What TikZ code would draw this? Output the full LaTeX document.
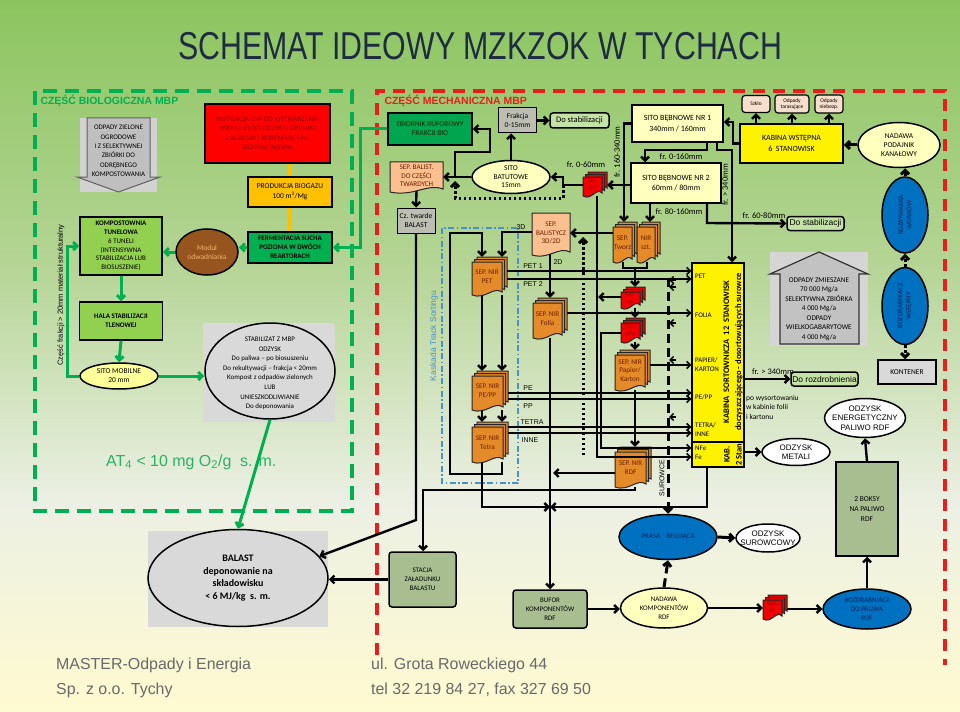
\documentclass[tikz,border=0pt]{standalone}
\usepackage{fontspec}
\setmainfont{Carlito}
\newfontfamily\arialfont{Liberation Sans}
\usepackage{graphicx}
\usetikzlibrary{arrows.meta,shapes.geometric}

\definecolor{bgTop}{RGB}{140,197,95}
\definecolor{bgMid}{RGB}{180,212,148}
\definecolor{bgLow}{RGB}{236,240,228}
\definecolor{bgBot}{RGB}{255,250,208}
\definecolor{titleBlue}{RGB}{30,44,66}
\definecolor{bioGreen}{RGB}{0,176,80}
\definecolor{atGreen}{RGB}{40,180,100}
\definecolor{mechRed}{RGB}{232,30,30}
\definecolor{lightGreen}{RGB}{146,208,80}
\definecolor{darkGreen}{RGB}{0,165,80}
\definecolor{chpRed}{RGB}{255,0,0}
\definecolor{chpText}{RGB}{150,0,0}
\definecolor{gold}{RGB}{255,192,0}
\definecolor{brownMod}{RGB}{150,85,30}
\definecolor{brownText}{RGB}{240,180,110}
\definecolor{paleYellow}{RGB}{255,255,153}
\definecolor{creamYellow}{RGB}{255,255,190}
\definecolor{boxGray}{RGB}{217,217,217}
\definecolor{midGray}{RGB}{188,190,178}
\definecolor{peach}{RGB}{250,192,144}
\definecolor{peachLight}{RGB}{248,222,205}
\definecolor{nirOrange}{RGB}{228,138,40}
\definecolor{nirText}{RGB}{110,30,0}
\definecolor{sepRed}{RGB}{240,0,0}
\definecolor{sepText}{RGB}{160,0,0}
\definecolor{sageGreen}{RGB}{168,190,145}
\definecolor{blueEll}{RGB}{0,112,192}
\definecolor{blueText}{RGB}{0,35,90}
\definecolor{kaskBlue}{RGB}{75,145,200}
\definecolor{stabFill}{RGB}{196,226,166}
\definecolor{footGray}{RGB}{105,105,105}

\tikzset{
  box/.style={draw=black,line width=1.5bp,align=center,inner sep=0pt,font=\fontsize{7.5}{9}\selectfont},
  rbox/.style={box,rounded corners=3bp},
  ell/.style={draw=black,ellipse,line width=1.5bp,inner sep=0pt},
  txt/.style={align=center,inner sep=0pt,font=\fontsize{7.5}{9}\selectfont},
  atxt/.style={align=center,inner sep=0pt,font=\arialfont\fontsize{8}{9.5}\selectfont},
  docline/.style={draw=black!85,line width=1bp},
  doctext/.style={align=center,inner sep=0pt,text=nirText,font=\fontsize{7.2}{8.6}\selectfont},
  redtext/.style={align=center,inner sep=0pt,text=sepText,font=\fontsize{6}{7}\selectfont},
  conn/.style={draw=black,line width=2.4bp},
  flow/.style={conn,->},
  slimflow/.style={draw=black,line width=1.5bp,-{Straight Barb[length=3.5bp,width=7bp]}},
  gflow/.style={draw=bioGreen,line width=3bp,->},
  dotline/.style={line width=3bp,dash pattern=on 2.5bp off 2.5bp},
  dashline/.style={line width=3bp,dash pattern=on 9bp off 5bp},
  lbl/.style={inner sep=0pt,font=\fontsize{8.5}{10}\selectfont},
  tag/.style={inner sep=0pt,font=\arialfont\fontsize{7}{8}\selectfont},
}

% one sheet with a wavy bottom: x0,y0,x1,y1,fill
\newcommand{\docsheet}[5]{%
  \filldraw[docline,fill=#5] ({#1},{#2}) -- ({#3},{#2}) -- ({#3},{(#4)-3})
    .. controls ({(#3)-0.3*((#3)-(#1))},{(#4)-9}) and ({(#1)+0.45*((#3)-(#1))},{(#4)+5}) .. ({#1},{#4}) -- cycle;}
% stack of three sheets: name,x0,y0,x1,y1,fill,text style,text
\newcommand{\docstack}[8]{%
  \docsheet{(#2)+5}{#3}{#4}{(#5)-5}{#6}%
  \docsheet{(#2)+2.5}{(#3)+2.5}{(#4)-2.5}{(#5)-2.5}{#6}%
  \docsheet{#2}{(#3)+5}{(#4)-5}{#5}{#6}%
  \node[inner sep=0pt,minimum width={((#4)-(#2))*1bp},minimum height={((#5)-(#3))*1bp}] (#1) at ({((#2)+(#4))/2},{((#3)+(#5))/2}) {};%
  \node[#7] (#1-txt) at ({((#2)+(#4)-5)/2},{((#3)+(#5)+5)/2-2}) {#8};}
% single sheet: name,x0,y0,x1,y1,fill,text
\newcommand{\docsingle}[7]{%
  \docsheet{#2}{#3}{#4}{#5}{#6}%
  \node[doctext,minimum width={((#4)-(#2))*1bp},minimum height={((#5)-(#3))*1bp}] (#1) at ({((#2)+(#4))/2},{((#3)+(#5))/2-1}) {#7};}

\begin{document}
\begin{tikzpicture}[x=1bp,y=-1bp,>={Straight Barb[length=4bp,width=8bp]}]
\useasboundingbox (0,0) rectangle (960,712);
\shade[top color=bgTop,bottom color=bgMid] (0,0) rectangle (960,262);
\shade[top color=bgMid,bottom color=bgLow] (0,261) rectangle (960,502);
\shade[top color=bgLow,bottom color=bgBot] (0,501) rectangle (960,712);

\node[font=\arialfont\fontsize{39}{40}\selectfont,text=titleBlue] (title) at (480,46) {\scalebox{0.78}[1]{SCHEMAT IDEOWY MZKZOK W TYCHACH}};

% frames
\draw[bioGreen,line width=4bp,dash pattern=on 14bp off 8bp] (35,91) rectangle (352,511);
\draw[mechRed,line width=3.5bp,dash pattern=on 12bp off 8bp] (377,655) -- (377,91) -- (945,91) -- (945,665);
\node[anchor=west,font=\arialfont\bfseries\fontsize{10.5}{12}\selectfont,text=bioGreen] (bioTitle) at (37,101) {CZĘŚĆ BIOLOGICZNA MBP};
\node[anchor=west,font=\arialfont\bfseries\fontsize{10.5}{12}\selectfont,text=mechRed] (mechTitle) at (381,101) {CZĘŚĆ MECHANICZNA MBP};

% biological part
\fill[gray!35] (80,118) rectangle (157,192);
\filldraw[fill=gray!50,draw=gray!75!black,line width=1bp] (87,118) -- (150,118) -- (150,177) -- (160,177) -- (118.5,192) -- (77,177) -- (87,177) -- cycle;
\node[txt,font=\fontsize{7}{9.5}\selectfont] (zielone) at (118.5,151) {ODPADY ZIELONE\\OGRODOWE\\I Z SELEKTYWNEJ\\ZBIÓRKI DO\\ODRĘBNEGO\\KOMPOSTOWANIA};
\node[box,fill=chpRed,text=chpText,minimum width=125bp,minimum height=59bp,font=\fontsize{7}{9.3}\selectfont] (chp) at (267.5,133.5) {INSTALACJA CHP DO WYTWARZANIA\\ENERGII ELEKTRYCZNEJ I CIEPLNEJ\\2 AGREGATY KOGENERACYJNE\\332kWe/ 365kWc};
\node[box,fill=gold,minimum width=84bp,minimum height=30bp,font=\fontsize{7.5}{10}\selectfont] (biogaz) at (290,192) {PRODUKCJA BIOGAZU\\100 m\textsuperscript{3}/Mg};
\node[box,fill=bioGreen,minimum width=84bp,minimum height=31bp,font=\bfseries\fontsize{7}{9}\selectfont] (ferm) at (290,247.5) {FERMENTACJA SUCHA\\POZIOMA W DWÓCH\\REAKTORACH};
\node[ell,fill=brownMod,minimum width=62bp,minimum height=46bp] (modul) at (207,252) {};
\node[txt,text=brownText] (modulTxt) at (modul) {Modul\\odwadniania};
\node[box,fill=lightGreen,minimum width=82bp,minimum height=58bp,font=\fontsize{7}{8.8}\selectfont] (komp) at (121,246) {\textbf{KOMPOSTOWNIA}\\\textbf{TUNELOWA}\\6 TUNELI\\(INTENSYWNA\\STABILIZACJA LUB\\BIOSUSZENIE)};
\node[box,fill=lightGreen,minimum width=83bp,minimum height=38bp,font=\bfseries\fontsize{7}{9}\selectfont] (hala) at (121,321) {HALA STABILIZACJI\\TLENOWEJ};
\node[ell,fill=paleYellow,minimum width=78bp,minimum height=26bp] (sitoMob) at (119,376) {};
\node[txt] (sitoMobTxt) at (sitoMob) {SITO MOBILNE\\20 mm};
\fill[boxGray] (203,323) rectangle (335,422);
\node[ell,fill=boxGray,minimum width=130bp,minimum height=96bp] (stab) at (270,371) {};
\node[txt,font=\fontsize{7}{9.6}\selectfont] (stabTxt) at (270,373.5) {STABILIZAT Z MBP\\ODZYSK\\Do paliwa -- po biosuszeniu\\Do rekultywacji -- frakcja < 20mm\\Kompost z odpadów zielonych\\LUB\\UNIESZKODLIWIANIE\\Do deponowania};
\node[rotate=90,inner sep=0pt,font=\arialfont\fontsize{7.5}{9}\selectfont] (czescTxt) at (61,295) {Część frakcji > 20mm materiał strukturalny};
\node[anchor=west,inner sep=0pt,font=\arialfont\fontsize{16}{18}\selectfont,text=atGreen] (at4) at (106,462) {AT\textsubscript{4} < 10 mg O\textsubscript{2}/g\ \ s. m.};

% mechanical part
\node[box,fill=darkGreen,minimum width=84bp,minimum height=32bp,text=black!85!green] (zbiornik) at (430,129) {ZBIORNIK BUFOROWY\\FRAKCJI BIO};
\docsingle{sepBalist}{390}{162}{443}{192}{peach}{SEP. BALIST.\\DO CZĘŚCI\\TWARDYCH}
\node[box,fill=midGray,line width=1bp,minimum width=38bp,minimum height=25bp] (czTwarde) at (416,220.5) {Cz. twarde\\BALAST};
\node[box,fill=midGray,line width=1bp,minimum width=38bp,minimum height=25bp] (frakcja) at (517.5,120.5) {Frakcja\\0-15mm};
\node[rbox,fill=stabFill,minimum width=59bp,minimum height=15bp,font=\fontsize{8.5}{10}\selectfont] (doStab1) at (579.5,120.5) {Do stabilizacji};
\node[ell,fill=creamYellow,minimum width=78bp,minimum height=33bp] (sitoBat) at (511,177) {};
\node[txt,font=\fontsize{7.5}{8.6}\selectfont] (sitoBatTxt) at (sitoBat) {SITO\\BATUTOWE\\15mm};
\docstack{sepFe1}{583}{172}{607}{196}{sepRed}{redtext}{Sep.\\Fe}
\node[box,fill=creamYellow,minimum width=91bp,minimum height=37bp,font=\fontsize{8}{10.5}\selectfont] (sito1) at (677.5,123.5) {SITO BĘBNOWE NR 1\\340mm / 160mm};
\node[box,fill=creamYellow,minimum width=90bp,minimum height=40bp,font=\fontsize{8}{10.5}\selectfont] (sito2) at (676,183) {SITO BĘBNOWE NR 2\\60mm / 80mm};
\node[box,fill=yellow,minimum width=103bp,minimum height=39bp,font=\fontsize{8}{10.5}\selectfont] (kabWst) at (791.5,143.5) {KABINA WSTĘPNA\\6\ \ STANOWISK};
\node[rbox,fill=peachLight,line width=1.2bp,minimum width=28bp,minimum height=17bp,font=\fontsize{5.5}{6.5}\selectfont] (szklo) at (756,104) {Szkło};
\node[rbox,fill=peachLight,line width=1.2bp,minimum width=34bp,minimum height=18bp,font=\fontsize{5.5}{6.5}\selectfont] (odpTar) at (792,104) {Odpady\\tarasujące};
\node[rbox,fill=peachLight,line width=1.2bp,minimum width=28bp,minimum height=18bp,font=\fontsize{5.5}{6.5}\selectfont] (odpNieb) at (829,104) {Odpady\\niebezp.};
\node[ell,fill=creamYellow,minimum width=82bp,minimum height=45bp] (nadawa) at (899,145) {};
\node[txt] (nadawaTxt) at (nadawa) {NADAWA\\PODAJNIK\\KANAŁOWY};
\node[ell,fill=blueEll,minimum width=46bp,minimum height=76bp] (rozryw) at (905,215) {};
\node[txt,rotate=90,text=blueText,font=\fontsize{7}{8.5}\selectfont] (rozrywTxt) at (rozryw) {ROZRYWARKA\\WORKÓW};
\node[ell,fill=blueEll,minimum width=46bp,minimum height=77bp] (rozdrab) at (905,306) {};
\node[txt,rotate=90,text=blueText,font=\fontsize{7}{8.5}\selectfont] (rozdrabTxt) at (rozdrab) {ROZDRABNIACZ\\WSTĘPNY};
\node[box,fill=boxGray,minimum width=58bp,minimum height=24bp] (kontener) at (907,372) {KONTENER};
\fill[gray!33] (770,252) rectangle (868,346);
\filldraw[fill=gray!48,draw=black!80,line width=1.2bp] (819,252) -- (868,274) -- (859,274) -- (859,344) -- (780,344) -- (780,274) -- (770,274) -- cycle;
\node[txt,font=\fontsize{7.3}{9.5}\selectfont] (odpMiesz) at (819,309) {ODPADY ZMIESZANE\\70 000 Mg/a\\SELEKTYWNA ZBIÓRKA\\4 000 Mg/a\\ODPADY\\WIELKOGABARYTOWE\\4 000 Mg/a};
\node[rbox,fill=stabFill,minimum width=57bp,minimum height=14bp,font=\arialfont\fontsize{8.5}{10}\selectfont] (doStab2) at (815.5,223.5) {Do stabilizacji};
\node[rbox,fill=stabFill,minimum width=67bp,minimum height=14bp,font=\arialfont\fontsize{8.5}{10}\selectfont] (doRozdr) at (824.5,379) {Do rozdrobnienia};

% sorting cabin
\node[draw=black,fill=yellow,line width=1.5bp,minimum width=52bp,minimum height=204bp] (cabin) at (718,365) {};
\draw[line width=1.2bp] (cabin.west |- 0,442) -- (cabin.east |- 0,442);
\node[rotate=90,align=center,inner sep=0pt,font=\bfseries\fontsize{8.5}{12}\selectfont] (cabTxt) at (733,352) {KABINA\ \ SORTOWNICZA\ \ 12\ \ STANOWISK\\doczyszczającego - dosortowujących surowce};
\node[rotate=90,align=center,inner sep=0pt,font=\bfseries\fontsize{8.5}{12}\selectfont] (cab2Txt) at (733,454.5) {KAB.\\2 Stan};
\node[anchor=west,inner sep=0pt,font=\fontsize{7}{9}\selectfont] (cPet) at (695,276) {PET};
\node[anchor=west,inner sep=0pt,font=\fontsize{7}{9}\selectfont] (cFolia) at (695,315) {FOLIA};
\node[anchor=west,align=left,inner sep=0pt,font=\fontsize{7}{9}\selectfont] (cPapier) at (695,365) {PAPIER/\\KARTON};
\node[anchor=west,inner sep=0pt,font=\fontsize{7}{9}\selectfont] (cPePp) at (695,397) {PE/PP};
\node[anchor=west,align=left,inner sep=0pt,font=\fontsize{7}{9}\selectfont] (cTetra) at (695,430) {TETRA/\\INNE};
\node[anchor=west,align=left,inner sep=0pt,font=\fontsize{7}{9}\selectfont] (cFe) at (695,453) {NFe\\Fe};

% separators
\docsingle{sepBalistycz}{532}{213}{570}{255}{peach}{SEP.\\BALISTYCZ\\3D/2D}
\docstack{sepTworz}{613}{222}{637}{262}{nirOrange}{doctext}{SEP.\\Tworz}
\docstack{nirSzt}{637}{222}{660}{262}{nirOrange}{doctext}{NIR\\szt.}
\docstack{sepFe2}{621}{287}{645}{308}{sepRed}{redtext}{Sep.\\Fe}
\docstack{sepNFe}{621}{318}{645}{342}{sepRed}{redtext}{Sep.\\NFe}
\docstack{nirPapier}{615}{350}{650}{390}{nirOrange}{doctext}{SEP. NIR\\Papier/\\Karton}
\docstack{nirRdf}{615}{447}{651}{487}{nirOrange}{doctext}{SEP. NIR\\RDF}
\docstack{nirPet}{472}{257}{507}{295}{nirOrange}{doctext}{SEP. NIR\\PET}
\docstack{nirFolia}{533}{298}{567}{338}{nirOrange}{doctext}{SEP. NIR\\Folia}
\docstack{nirPePp}{472}{371}{508}{410}{nirOrange}{doctext}{SEP. NIR\\PE/PP}
\docstack{nirTetra}{472}{422}{508}{462}{nirOrange}{doctext}{SEP. NIR\\Tetra}
\draw[kaskBlue,line width=1.5bp,dash pattern=on 6bp off 2.5bp on 1.5bp off 2.5bp] (442,228) rectangle (518,483);
\node[rotate=90,inner sep=0pt,font=\arialfont\fontsize{8.5}{10}\selectfont,text=kaskBlue] (kaskTxt) at (434,336) {Kaskada Track Sortingu};

% lower part
\node[rbox,fill=sageGreen,minimum width=67bp,minimum height=55bp,font=\fontsize{7}{9}\selectfont] (stacja) at (422.5,579.5) {STACJA\\ZAŁADUNKU\\BALASTU};
\fill[boxGray] (148,531) rectangle (328,627);
\node[ell,fill=boxGray,minimum width=180bp,minimum height=97bp] (balast) at (238,578) {};
\node[txt,font=\bfseries\fontsize{10}{12.5}\selectfont] (balastTxt) at (balast) {BALAST\\deponowanie na\\składowisku\\< 6 MJ/kg\ \ s. m.};
\node[rbox,fill=sageGreen,minimum width=74bp,minimum height=38bp,font=\fontsize{7}{9}\selectfont] (bufor) at (550,609) {BUFOR\\KOMPONENTÓW\\RDF};
\node[ell,fill=creamYellow,minimum width=87bp,minimum height=40bp] (nadKomp) at (664,608) {};
\node[txt,font=\fontsize{7}{9}\selectfont] (nadKompTxt) at (nadKomp) {NADAWA\\KOMPONENTÓW\\RDF};
\docstack{sepFe3}{763}{595}{787}{619}{sepRed}{redtext}{Sep.\\Fe}
\node[ell,fill=blueEll,minimum width=88bp,minimum height=40bp] (rozdrRdf) at (867,609) {};
\node[txt,text=blueText,font=\fontsize{7}{9}\selectfont] (rozdrRdfTxt) at (rozdrRdf) {ROZDRABNIACZ\\DO PALIWA\\RDF};
\node[box,fill=sageGreen,minimum width=62bp,minimum height=94bp,font=\fontsize{7.5}{10}\selectfont] (boksy) at (867,509) {2 BOKSY\\NA PALIWO\\RDF};
\node[ell,fill=white,minimum width=81bp,minimum height=39bp] (odzEn) at (865,418) {};
\node[atxt] (odzEnTxt) at (odzEn) {ODZYSK\\ENERGETYCZNY\\PALIWO RDF};
\node[ell,fill=white,minimum width=68bp,minimum height=27bp] (odzMet) at (796,452) {};
\node[atxt] (odzMetTxt) at (odzMet) {ODZYSK\\METALI};
\node[ell,fill=blueEll,minimum width=98bp,minimum height=45bp] (prasa) at (668,537) {};
\node[txt,text=blueText,font=\fontsize{7}{9}\selectfont] (prasaTxt) at (prasa) {PRASA\ \ \ \ BELUJĄCA};
\node[ell,fill=white,minimum width=64bp,minimum height=28bp] (odzSur) at (768,538) {};
\node[atxt] (odzSurTxt) at (odzSur) {ODZYSK\\SUROWCOWY};

% labels
\node[lbl] (fr060) at (586,165) {fr. 0-60mm};
\node[lbl,rotate=90] (fr160) at (617,152) {fr. 160-340mm};
\node[lbl] (fr0160) at (681,157) {fr. 0-160mm};
\node[lbl,rotate=90] (fr340a) at (725,185) {fr. > 340mm};
\node[lbl] (fr80) at (679,212) {fr. 80-160mm};
\node[lbl] (fr6080) at (764,216) {fr. 60-80mm};
\node[lbl] (fr340b) at (773,372) {fr. > 340mm};
\node[anchor=west,align=left,inner sep=0pt,font=\fontsize{7.5}{9.5}\selectfont] (poWys) at (746,407) {po wysortowaniu\\w kabinie folii\\i kartonu};
\node[tag] (t3d) at (521,227) {3D};
\node[tag] (t2d) at (558,262) {2D};
\node[tag] (tPet1) at (533,266) {PET 1};
\node[tag] (tPet2) at (533,284) {PET 2};
\node[tag] (tPe) at (528,388) {PE};
\node[tag] (tPp) at (528,406) {PP};
\node[tag] (tTetra) at (532,422) {TETRA};
\node[tag] (tInne) at (530,440) {INNE};
\node[tag,rotate=90] (tSurowce) at (662,478) {SUROWCE};

% biological connectors
\draw[gold,line width=4bp] (biogaz.north |- chp.south) -- (biogaz.north);
\draw[gold,line width=4bp] (biogaz.south) -- (ferm.north);
\draw[gflow] (ferm.west) -- (ferm.west -| modul.east);
\draw[gflow] (modul.west) -- (modul.west -| komp.east);
\draw[gflow] (komp.south) -- (hala.north);
\draw[gflow] (hala.south) -- (sitoMob.north);
\draw[gflow] (sitoMob.west) -- (sitoMob.west -| 67,0) -- (komp.west -| 67,0) -- (komp.west);
\draw[gflow] (sitoMob.east) -- (sitoMob.east -| stab.west);
\draw[gflow] (stab.south) -- (balast.north);
\draw[gflow] (zbiornik.west) -- (zbiornik.west -| 360,0) |- (ferm.east);

% mechanical connectors
\coordinate (bioTap) at (455,177);
\coordinate (feTurn) at (563,185);
\coordinate (bufJoin) at (550,507);
\coordinate (surTop) at (668,278);
\coordinate (dotFoot) at (583,455);
\draw[flow] (sepBalist.south) -- (czTwarde.north);
\draw[flow] (sitoBat.west) -- (sitoBat.west -| sepBalist.east);
\draw[flow] (sitoBat.north) -- (sitoBat.north |- frakcja.south);
\draw[flow] (frakcja.east) -- (doStab1.west);
\draw[flow] (bioTap) -- (455,152) -- (490,152) -- (490,129) -- (zbiornik.east);
\draw[flow] (sito2.west |- feTurn) -- (sepFe1.east |- feTurn);
\draw[flow] (sepFe1.west |- feTurn) -- (feTurn) -- (563,177) -- (sitoBat.east);
\draw[dotline,->] (feTurn) -- (563,198) -- (455,198) -- (455,181);
\draw[flow] (sito1.west) -- (sito1.west -| 624,0) -- (sepTworz.north -| 624,0);
\draw[flow] (sito1.south -| 707,0) -- (707,150) -- (645,150) -- (sito2.north -| 645,0);
\draw[flow] (sito1.south -| 717,0) -- (717,150) -- (732,150) -- (cabin.north -| 732,0);
\draw[flow] (kabWst.west) -- (kabWst.west -| 733,0) -- (733,122) -- (sito1.east |- 0,122);
\draw[flow] (sito2.south -| 650,0) -- (nirSzt.north -| 650,0);
\draw[flow] (sito2.south -| 707,0) -- (707,223) -- (doStab2.west);
\draw[flow] (kabWst.north -| szklo.south) -- (szklo.south);
\draw[flow] (kabWst.north -| odpTar.south) -- (odpTar.south);
\draw[flow] (kabWst.north -| odpNieb.south) -- (odpNieb.south);
\draw[flow,line width=3bp] (nadawa.west) -- (nadawa.west -| kabWst.east);
\draw[flow,line width=3bp] (rozryw.north) -- (rozryw.north |- nadawa.south);
\draw[dotline,->] (rozdrab.north) -- (rozryw.south);
\draw[dotline,->] (rozdrab.south) -- (rozdrab.south |- kontener.north);
\draw[flow] (sepTworz.west |- 0,233) -- (sepBalistycz.east |- 0,233);
\draw[conn] (sepTworz.south -| 623,0) -- (623,268) -- (647,268) -- (nirSzt.south -| 647,0);
\draw[flow] (635,268) -- (sepFe2.north -| 635,0);
\draw[flow] (sepFe2.south -| 635,0) -- (sepNFe.north -| 635,0);
\draw[flow] (sepNFe.south -| 635,0) -- (nirPapier.north -| 635,0);
\draw[flow] (nirPapier.south -| 635,0) -- (nirRdf.north -| 635,0);
\draw[flow] (sepBalistycz.west |- 0,232) -- (502,232) -- (nirPet.north -| 502,0);
\draw[flow] (nirTetra.south -| 502,0) -- (502,474) -- (450,474) -- (450,233) -- (482,233) -- (nirPet.north -| 482,0);
\draw[flow] (nirPet.south -| 482,0) -- (nirPePp.north -| 482,0);
\draw[flow] (nirPet.south -| 502,0) -- (nirPePp.north -| 502,0);
\draw[flow] (nirPePp.south -| 482,0) -- (nirTetra.north -| 482,0);
\draw[flow] (nirPePp.south -| 502,0) -- (nirTetra.north -| 502,0);
\draw[flow] (nirTetra.south -| 482,0) -- (482,507) -- (bufJoin);
\draw[flow] (sepBalistycz.south -| 550,0) -- (nirFolia.north -| 550,0);
\draw[flow] (nirFolia.south -| 550,0) -- (bufor.north -| 550,0);
\draw[flow] (cabin.south -| 707,0) -- (707,507) -- (bufJoin);
\draw[flow] (nirRdf.west |- 0,473) -- (553,473);
\draw[flow] (nirRdf.south -| 635,0) -- (635,490) -- (423,490) -- (stacja.north -| 423,0);
\draw[dotline,->] (dotFoot) -- (583,237);
\draw[flow] (czTwarde.south) -- (czTwarde.south |- 0,520) -- (balast.15);
\draw[flow] (stacja.west) -- (stacja.west -| balast.east);
\draw[flow] (bufor.east) -- (bufor.east -| nadKomp.west);
\draw[dashline,->] (nadKomp.north) -- (prasa.south);
\draw[dashline,->] (surTop) -- (prasa.north);
\foreach \yy in {280,287,323,360,417}
  \draw[slimflow] (676,\yy) -- (669,\yy);
\draw[flow] (nadKomp.east) -- (nadKomp.east -| sepFe3.west);
\draw[flow] (sepFe3.east |- rozdrRdf.west) -- (rozdrRdf.west);
\draw[flow] (rozdrRdf.north) -- (boksy.south);
\draw[flow] (boksy.north) -- (odzEn.south);
\draw[flow,line width=3bp] (prasa.east) -- (odzSur.west);
\draw[flow] (cabin.east |- doRozdr.west) -- (doRozdr.west);
\draw[flow] (cabin.east |- odzMet.west) -- (odzMet.west);

% feeds into the sorting cabin
\draw[slimflow] (nirPet.east |- 0,271) -- (cabin.west |- 0,271);
\draw[slimflow] (nirPet.east |- 0,279) -- (cabin.west |- 0,279);
\draw[slimflow] (nirFolia.east |- 0,313) -- (cabin.west |- 0,313);
\draw[slimflow] (nirPapier.east |- 0,365) -- (cabin.west |- 0,365);
\draw[slimflow] (nirPePp.east |- 0,393) -- (cabin.west |- 0,393);
\draw[slimflow] (nirPePp.east |- 0,399) -- (cabin.west |- 0,399);
\draw[slimflow] (nirTetra.east |- 0,427) -- (cabin.west |- 0,427);
\draw[slimflow] (nirTetra.east |- 0,433) -- (cabin.west |- 0,433);
\draw[slimflow] (sepNFe.west |- 0,333) -- (601,333) -- (601,448) -- (cabin.west |- 0,448);
\draw[slimflow] (sepFe1.south -| 597,0) -- (597,457) -- (cabin.west |- 0,457);
\draw[flow] (sepFe2.west |- 0,297) -- (598,297);

% footer
\node[anchor=west,inner sep=0pt,font=\arialfont\fontsize{16}{18}\selectfont,text=footGray] (foot1) at (56,665) {MASTER-Odpady i Energia};
\node[anchor=west,inner sep=0pt,font=\arialfont\fontsize{16}{18}\selectfont,text=footGray] (foot2) at (56,690) {Sp. z o.o. Tychy};
\node[anchor=west,inner sep=0pt,font=\arialfont\fontsize{16}{18}\selectfont,text=footGray] (foot3) at (371,665) {ul. Grota Roweckiego 44};
\node[anchor=west,inner sep=0pt,font=\arialfont\fontsize{16}{18}\selectfont,text=footGray] (foot4) at (371,690) {tel 32 219 84 27, fax 327 69 50};
\end{tikzpicture}
\end{document}
